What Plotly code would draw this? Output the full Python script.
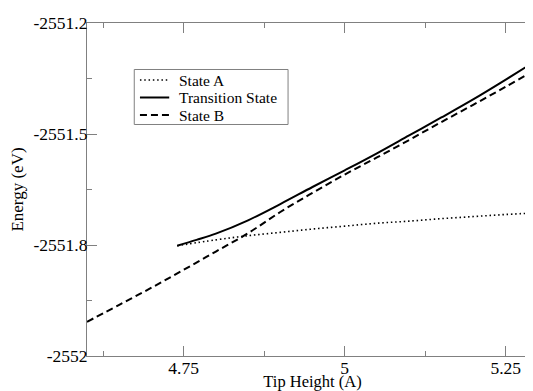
import plotly.graph_objects as go

# ---- data ----
tip_a = [4.74, 4.80, 4.85, 4.90, 4.95, 5.00, 5.05, 5.10, 5.15, 5.20, 5.25, 5.30]
energy_a = [-2551.735, -2551.721, -2551.711, -2551.703, -2551.695, -2551.688,
            -2551.681, -2551.676, -2551.670, -2551.665, -2551.660, -2551.656]

tip_ts = [4.74, 4.77, 4.80, 4.85, 4.90, 4.95, 5.00, 5.05, 5.10, 5.15, 5.20, 5.25, 5.30]
energy_ts = [-2551.735, -2551.721, -2551.706, -2551.674, -2551.635, -2551.594,
             -2551.554, -2551.513, -2551.470, -2551.427, -2551.383, -2551.336,
             -2551.288]

tip_b = [4.60, 4.65, 4.70, 4.75, 4.80, 4.85, 4.90, 4.95, 5.00, 5.05, 5.10,
         5.15, 5.20, 5.25, 5.30]
energy_b = [-2551.918, -2551.877, -2551.836, -2551.793, -2551.749, -2551.705,
            -2551.654, -2551.608, -2551.564, -2551.523, -2551.481, -2551.438,
            -2551.396, -2551.353, -2551.309]

series_names = ["State A", "Transition State", "State B"]

x_tickvals = [4.75, 5.0, 5.25]
x_ticktext = ["4.75", "5", "5.25"]
x_minor = [4.625, 4.875, 5.125]

y_min, y_max = -2552.0, -2551.2
y_tickvals = [y_min + k * (y_max - y_min) / 3 for k in range(4)]
y_ticktext = ["-2552", "-2551.8", "-2551.5", "-2551.2"]
y_minor = [y_min + (k + 0.5) * (y_max - y_min) / 3 for k in range(3)]

FONT = "Liberation Serif, Times New Roman, serif"
AXC = "#808080"

dash_styles = ["1.5px,2.8px", "solid", "7px,4px"]
line_widths = [1.6, 2, 2]

fig = go.Figure()
for xs, ys, name, dsh, lw in zip([tip_a, tip_ts, tip_b],
                                 [energy_a, energy_ts, energy_b],
                                 series_names, dash_styles, line_widths):
    fig.add_trace(go.Scatter(x=xs, y=ys, mode="lines", name=name, showlegend=False,
                             line=dict(color="black", width=lw, dash=dsh,
                                       shape="spline", smoothing=1)))

# ---- legend drawn as a boxed key (paper coordinates) ----
leg_x0, leg_x1, leg_y0, leg_y1 = 0.1048, 0.4458, 0.6952, 0.8604
key_x0, key_x1, text_x = 0.1174, 0.1823, 0.2016
row_y = [0.8288, 0.7763, 0.7237]

shapes = [dict(type="rect", xref="paper", yref="paper",
               x0=leg_x0, x1=leg_x1, y0=leg_y0, y1=leg_y1,
               line=dict(color=AXC, width=1), fillcolor="white", layer="above")]
annotations = []
for name, dsh, lw, ry in zip(series_names, dash_styles, line_widths, row_y):
    shapes.append(dict(type="line", xref="paper", yref="paper",
                       x0=key_x0, x1=key_x1, y0=ry, y1=ry, layer="above",
                       line=dict(color="black", width=lw, dash=dsh)))
    annotations.append(dict(text=name, xref="paper", yref="paper", x=text_x, y=ry,
                            xanchor="left", yanchor="middle", showarrow=False,
                            borderpad=0,
                            font=dict(family=FONT, size=15.5, color="black")))

axis_common = dict(
    showline=True, linecolor=AXC, linewidth=1, mirror="ticks",
    ticks="inside", ticklen=10, tickcolor=AXC, tickwidth=1,
    showgrid=False, zeroline=False, automargin=False,
    tickfont=dict(family=FONT, size=17.5, color="black"),
)

fig.update_layout(
    width=533, height=383,
    margin=dict(l=79, r=2.5, t=15, b=35),
    paper_bgcolor="white", plot_bgcolor="white",
    font=dict(family=FONT, size=17, color="black"),
    showlegend=False,
    shapes=shapes, annotations=annotations,
    xaxis=dict(range=[4.6, 5.3], tickmode="array", tickvals=x_tickvals,
               ticktext=x_ticktext, ticklabelstandoff=-4,
               minor=dict(tickmode="array", tickvals=x_minor, ticks="inside",
                          ticklen=5, tickcolor=AXC),
               title=dict(text="Tip Height (A)", font=dict(family=FONT, size=16.5),
                          standoff=0),
               **axis_common),
    yaxis=dict(range=[y_min, y_max], tickmode="array", tickvals=y_tickvals,
               ticktext=y_ticktext, ticklabelstandoff=-5,
               minor=dict(tickmode="array", tickvals=y_minor, ticks="inside",
                          ticklen=5, tickcolor=AXC),
               title=dict(text="Energy (eV)", font=dict(family=FONT, size=17),
                          standoff=8),
               **axis_common),
)

fig.write_html("out.html")
